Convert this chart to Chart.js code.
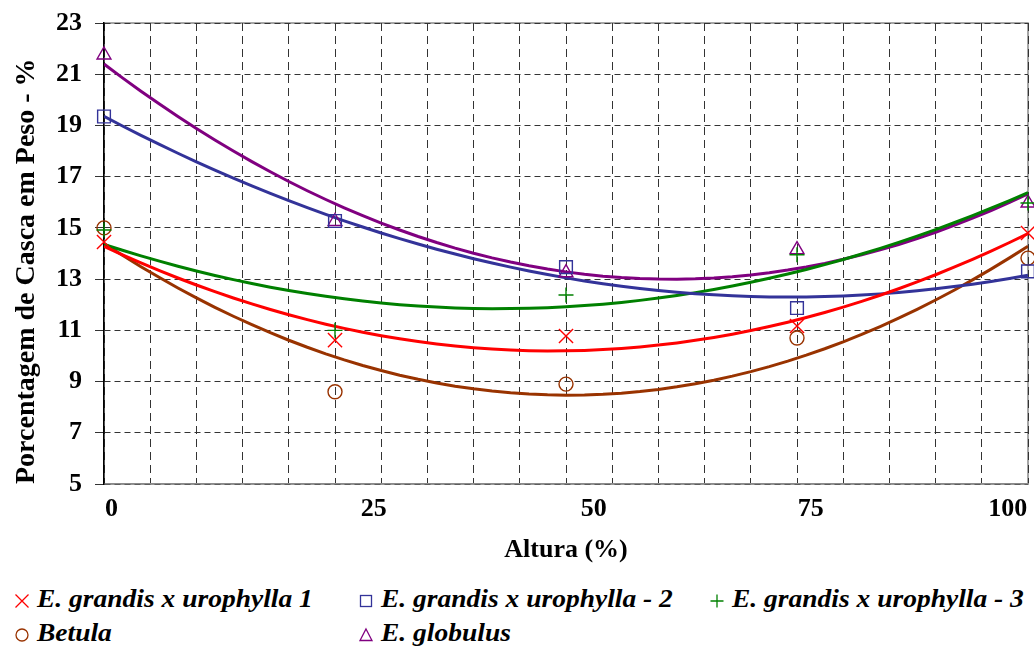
<!DOCTYPE html>
<html>
<head>
<meta charset="utf-8">
<script src="https://cdn.jsdelivr.net/npm/chart.js@4.4.1/dist/chart.umd.min.js"></script>
<style>
body{margin:0;background:#fff;}
#wrap{position:relative;width:1034px;height:650px;}
#legend{position:absolute;left:0;top:582px;width:1034px;box-sizing:border-box;padding-left:14px;
display:grid;grid-template-columns:344px 351px auto;
font:italic bold 25px "Liberation Serif",serif;line-height:34px;color:#000;}
.item{white-space:nowrap;}
.item svg{vertical-align:-2px;margin-right:7px;}
.item span{display:inline-block;transform:scaleX(1.1);transform-origin:left center;}
</style>
</head>
<body>
<div id="wrap">
<canvas id="cascaChart" width="1034" height="572"></canvas>
<div id="legend"></div>
</div>
<script>

/* Data */

const alturas = [0, 25, 50, 75, 100];

const egu1 = [14.45, 10.62, 10.78, 11.17, 14.8];
const egu2 = [19.35, 15.27, 13.47, 11.87, 13.3];
const egu3 = [14.92, 11.0, 12.38, 13.95, 15.97];
const betula = [15.0, 8.6, 8.9, 10.7, 13.82];
const globulus = [21.75, 15.25, 13.25, 14.15, 15.97];

const seriesNames = ["E. grandis x urophylla 1", "E. grandis x urophylla - 2", "E. grandis x urophylla - 3", "Betula", "E. globulus"];
const seriesValues = [egu1, egu2, egu3, betula, globulus];

const xTickLabels = ["0", "25", "50", "75", "100"];
const xTickPos = [0.8, 29.2, 53, 76.5, 97.8];   // where the labels sit in the original


/* Styles */

const seriesColors = ["#ff0000", "#333399", "#008000", "#993300", "#800080"];
const seriesMarkers = ["crossRot", "rect", "cross", "circle", "triangle"];
const markerRadius = [10, 9, 7.5, 7, 8];

const serif = "'Liberation Serif', 'Times New Roman', serif";


/* Polynomial (order 2) trendline, like the original */

function quadFit(xs, ys){

let s = [0,0,0,0,0], t = [0,0,0];

for(let i=0;i<xs.length;i++){
let p = 1;
for(let k=0;k<5;k++){
s[k] += p;
if(k < 3) t[k] += p*ys[i];
p *= xs[i];
}
}

let m = [
[s[0], s[1], s[2], t[0]],
[s[1], s[2], s[3], t[1]],
[s[2], s[3], s[4], t[2]]
];

for(let c=0;c<3;c++){
for(let r=c+1;r<3;r++){
let f = m[r][c]/m[c][c];
for(let k=c;k<4;k++) m[r][k] -= f*m[c][k];
}
}

let coef = [0,0,0];
for(let r=2;r>=0;r--){
let v = m[r][3];
for(let k=r+1;k<3;k++) v -= m[r][k]*coef[k];
coef[r] = v/m[r][r];
}

return coef;

}

function trendPoints(ys){

const c = quadFit(alturas, ys);
const pts = [];
for(let x=alturas[0]; x<=alturas[alturas.length-1]; x+=2){
pts.push({x:x, y:c[0] + c[1]*x + c[2]*x*x});
}
return pts;

}


/* Datasets */

const datasets = [];

seriesValues.forEach((vals,i)=>{

datasets.push({
type: "scatter",
label: seriesNames[i],
data: alturas.map((x,j)=>({x:x, y:vals[j]})),
pointStyle: seriesMarkers[i],
pointRadius: markerRadius[i],
pointBorderWidth: 1.4,
borderColor: seriesColors[i],
backgroundColor: "rgba(0,0,0,0)",
showLine: false,
clip: false,
order: 0
});

datasets.push({
type: "line",
label: seriesNames[i] + " (tendência)",
data: trendPoints(vals),
borderColor: seriesColors[i],
borderWidth: 3,
pointRadius: 0,
fill: false,
tension: 0,
order: 1
});

});


/* Plot frame */

const plotFrame = {
id: "plotFrame",
beforeDraw(chart){
const {ctx, chartArea:a} = chart;
ctx.save();
ctx.strokeStyle = "#8a8a8a";
ctx.lineWidth = 1.5;
ctx.strokeRect(a.left, a.top, a.right-a.left, a.bottom-a.top);
ctx.restore();
}
};


/* Chart */

const ctx = document.getElementById("cascaChart").getContext("2d");

const chart = new Chart(ctx, {
type: "scatter",
data: {datasets: datasets},
plugins: [plotFrame],
options: {
responsive: false,
animation: false,
layout: {autoPadding: false, padding: {top: 23, right: 0, bottom: 0, left: 0}},
plugins: {
legend: {display: false},
tooltip: {enabled: false}
},
scales: {
x: {
type: "linear",
min: 0,
max: 100,
afterBuildTicks: scale => {
const vals = [];
for(let v=0; v<=100; v+=5) vals.push(v);
scale.ticks = vals.concat(xTickPos).sort((a,b)=>a-b).map(v=>({value:v}));
},
afterFit: scale => {
scale.height = 88;
scale.paddingLeft = 0;
scale.paddingRight = 6;
},
grid: {
color: "#333",
lineWidth: c => (c.tick && xTickPos.includes(c.tick.value)) ? 0 : 1,
drawTicks: false
},
border: {display: true, color: "#8a8a8a", width: 1.5, dash: [8,5]},
ticks: {
autoSkip: false,
maxRotation: 0,
padding: 10,
color: "#000",
font: {family: serif, size: 26, weight: "bold"},
callback: v => {
const i = xTickPos.indexOf(v);
return i >= 0 ? xTickLabels[i] : "";
}
},
title: {
display: true,
text: "Altura (%)",
color: "#000",
font: {family: serif, size: 26, weight: "bold"},
padding: {top: 0, bottom: 6}
}
},
y: {
min: 5,
max: 23,
afterFit: scale => {
scale.width = 104;
scale.paddingTop = 0;
scale.paddingBottom = 0;
},
grid: {color: "#333", tickLength: 9, tickColor: "#333", tickBorderDash: []},
border: {color: "#000", width: 1.5, dash: [6,4]},
ticks: {
stepSize: 2,
padding: 13,
color: "#000",
font: {family: serif, size: 26, weight: "bold"}
},
title: {
display: true,
text: "Porcentagem de Casca em Peso - %",
align: "start",
color: "#000",
font: {family: serif, size: 28, weight: "bold"},
padding: {top: 10, bottom: 0}
}
}
}
}
});


/* Legend (two rows, three columns as in the original) */

function markerSvg(style, color){

let shape = "";
if(style === "crossRot") shape = '<path d="M1.5 1.5L14.5 14.5M14.5 1.5L1.5 14.5"/>';
else if(style === "rect") shape = '<rect x="2.5" y="2.5" width="11" height="11"/>';
else if(style === "cross") shape = '<path d="M8 1.5V14.5M1.5 8H14.5"/>';
else if(style === "circle") shape = '<circle cx="8" cy="8" r="6"/>';
else shape = '<path d="M8 2L14 13.5H2Z"/>';

return '<svg width="16" height="16" viewBox="0 0 16 16" fill="none" stroke="' + color + '" stroke-width="1.3">' + shape + '</svg>';

}

const legend = document.getElementById("legend");

seriesNames.forEach((name,i)=>{
const item = document.createElement("div");
item.className = "item";
item.innerHTML = markerSvg(seriesMarkers[i], seriesColors[i]) + "<span>" + name + "</span>";
legend.appendChild(item);
});

</script>
</body>
</html>
